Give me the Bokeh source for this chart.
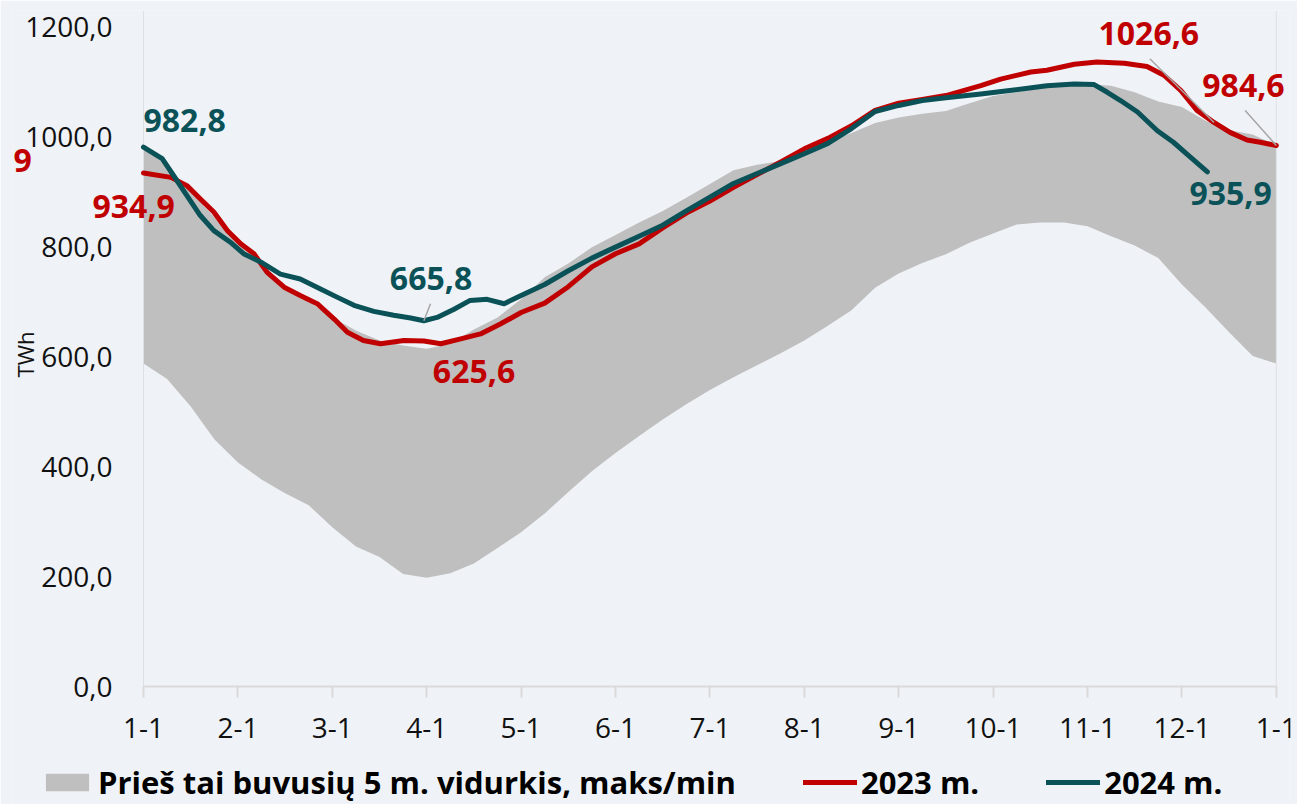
import math
from bokeh.plotting import figure
from bokeh.models import Range1d, FixedTicker, Label, Legend, LegendItem
from bokeh.embed import file_html
from bokeh.resources import INLINE

# ---------------- data ----------------
# x position in months since 1 January (0 = 1-1, 12 = next 1-1)
band_months = [0.0, 0.25, 0.5, 0.75, 1.0, 1.25, 1.5, 1.75, 2.0, 2.25, 2.5,
               2.75, 3.0, 3.25, 3.5, 3.75, 4.0, 4.25, 4.5, 4.75, 5.0, 5.25,
               5.5, 5.75, 6.0, 6.25, 6.5, 6.75, 7.0, 7.25, 7.5, 7.75, 8.0,
               8.25, 8.5, 8.75, 9.0, 9.25, 9.5, 9.75, 10.0, 10.25, 10.5,
               10.75, 11.0, 11.25, 11.5, 11.75, 12.0]

band_max = [982, 948, 901, 855, 810, 767, 730, 701, 672, 648, 630, 621, 615,
            624, 650, 672, 705, 745, 770, 800, 822, 845, 866, 890, 915, 940,
            950, 957, 972, 990, 1008, 1026, 1036, 1043, 1048, 1062, 1075, 1082,
            1090, 1095, 1097, 1094, 1082, 1065, 1055, 1030, 1013, 1005, 985]

band_min = [588, 560, 510, 450, 408, 377, 352, 330, 290, 255, 236, 205, 198,
            206, 224, 252, 281, 315, 354, 392, 425, 456, 486, 514, 540, 563,
            585, 607, 630, 657, 685, 726, 752, 771, 787, 808, 825, 841, 845,
            845, 838, 820, 803, 780, 732, 690, 645, 602, 588]

months2023 = [0.0, 0.29, 0.46, 0.6, 0.745, 0.89, 1.03, 1.17, 1.31, 1.49, 1.66,
              1.84, 2.02, 2.16, 2.33, 2.51, 2.76, 2.97, 3.15, 3.36, 3.57, 3.78,
              4.0, 4.25, 4.5, 4.75, 5.0, 5.25, 5.5, 5.75, 6.0, 6.25, 6.5, 6.75,
              7.0, 7.25, 7.5, 7.75, 8.0, 8.25, 8.5, 8.87, 9.08, 9.4, 9.57,
              9.86, 10.1, 10.39, 10.63, 10.81, 10.99, 11.16, 11.34, 11.51,
              11.69, 11.83, 12.0]
y2023 = [935, 927, 912, 888, 864, 830, 806, 788, 754, 727, 712, 697, 669, 645,
         630, 624, 630, 629, 624, 633, 642, 660, 681, 698, 728, 764, 788, 806,
         835, 862, 884, 909, 932, 955, 979, 998, 1021, 1049, 1062, 1069, 1076,
         1094, 1106, 1119, 1122, 1133, 1137, 1135, 1129, 1113, 1085, 1049,
         1027, 1009, 995, 991, 985]

months2024 = [0.0, 0.198, 0.32, 0.46, 0.6, 0.745, 0.92, 1.06, 1.24, 1.45, 1.66,
              1.875, 2.05, 2.23, 2.44, 2.65, 2.83, 2.97, 3.11, 3.29, 3.46, 3.64,
              3.82, 4.0, 4.25, 4.5, 4.75, 5.0, 5.25, 5.5, 5.75, 6.0, 6.25, 6.5,
              6.75, 7.0, 7.25, 7.5, 7.75, 8.0, 8.25, 8.5, 8.87, 9.22, 9.57,
              9.86, 10.07, 10.21, 10.35, 10.53, 10.74, 10.91, 11.09, 11.27]
y2024 = [982, 961, 930, 894, 858, 830, 809, 788, 773, 751, 742, 724, 709, 694,
         683, 676, 671, 666, 672, 687, 703, 705, 697, 712, 732, 757, 780, 800,
         820, 840, 866, 891, 916, 934, 952, 970, 989, 1016, 1047, 1058, 1067,
         1072, 1079, 1086, 1094, 1097, 1096, 1082, 1067, 1046, 1012, 991, 964,
         937]

x_ticks = [0, 1, 2, 3, 4, 5, 6, 7, 8, 9, 10, 11, 12]
x_tick_labels = ["1-1", "2-1", "3-1", "4-1", "5-1", "6-1", "7-1", "8-1",
                 "9-1", "10-1", "11-1", "12-1", "1-1"]
y_ticks = [0, 200, 400, 600, 800, 1000, 1200]
y_tick_labels = ["0,0", "200,0", "400,0", "600,0", "800,0", "1000,0", "1200,0"]

series_names = ["Prieš tai buvusių 5 m. vidurkis, maks/min", "2023 m.", "2024 m."]
y_title = "TWh"

# data labels: (text, index of the labelled point in its series)
labels_2023 = [("934,9", 0), ("625,6", 17), ("1026,6", 52), ("984,6", 56)]
labels_2024 = [("982,8", 0), ("665,8", 17), ("935,9", 53)]
edge_fragment = "9"   # clipped red label fragment at the left page edge

# ---------------- style / layout ----------------
RED = "#C00000"
TEAL = "#0B5258"
GRAY = "#BFBFBF"
BG = "#EFF3F7"
FONT = "Open Sans"

W, H = 1297, 804
FRAME_L, FRAME_R, FRAME_T = 12, 1290, 10
AXIS_Y = 686              # screen y of the value 0
PX_MONTH = 94.4           # screen px per month (1-1 at x=143)
X0_PX = 143
PX_UNIT = 0.5492          # screen px per TWh unit
x_start = (FRAME_L - X0_PX) / PX_MONTH
x_end = 12 + (FRAME_R - (X0_PX + 12 * PX_MONTH)) / PX_MONTH
y_end = (AXIS_Y - FRAME_T) / PX_UNIT
y_start = -(H - AXIS_Y) / PX_UNIT

p = figure(width=W, height=H, output_backend="svg", toolbar_location=None,
           x_range=Range1d(x_start, x_end), y_range=Range1d(y_start, y_end),
           x_axis_location="above",
           min_border_left=FRAME_L, min_border_right=W - FRAME_R,
           min_border_top=FRAME_T, min_border_bottom=0)
p.background_fill_color = BG
p.border_fill_color = BG
p.outline_line_color = None

band = p.varea(x=band_months, y1=band_min, y2=band_max, fill_color=GRAY)
# faint vertical borders of the plot area at the first and the last 1-1
p.segment(x0=[x_ticks[0], x_ticks[-1]], y0=[0, 0],
          x1=[x_ticks[0], x_ticks[-1]], y1=[y_end, y_end],
          line_color="#DCE1E6", line_width=1)
l23 = p.line(months2023, y2023, line_color=RED, line_width=5,
             line_join="round", line_cap="round")
l24 = p.line(months2024, y2024, line_color=TEAL, line_width=5,
             line_join="round", line_cap="round")

# x axis drawn at value 0, labels below the line
xa = p.xaxis[0]
xa.fixed_location = 0
xa.bounds = (x_ticks[0], x_ticks[-1])
xa.ticker = FixedTicker(ticks=x_ticks)
xa.major_label_overrides = {t: s for t, s in zip(x_ticks, x_tick_labels)}
xa.axis_line_color = "#D9D9D9"
xa.axis_line_width = 2
xa.major_tick_line_color = "#D9D9D9"
xa.major_tick_line_width = 2
xa.major_tick_out = 0
xa.major_tick_in = 11
xa.minor_tick_line_color = None
xa.major_label_standoff = -51

# y axis: labels end at x=112 (31 px left of the 1-1 position)
ya = p.yaxis[0]
ya.ticker = FixedTicker(ticks=y_ticks)
ya.major_label_overrides = {t: s for t, s in zip(y_ticks, y_tick_labels)}
ya.axis_line_color = None
ya.major_tick_line_color = None
ya.minor_tick_line_color = None
ya.major_tick_out = 0
ya.major_tick_in = 0
ya.major_label_standoff = FRAME_L - 112

for ax in (xa, ya):
    ax.major_label_text_font = FONT
    ax.major_label_text_font_size = "28px"
    ax.major_label_text_color = "#111111"

p.xgrid.grid_line_color = None
p.ygrid.grid_line_color = None

# y title, rotated, at the left edge
p.add_layout(Label(x=x_start, y=(AXIS_Y - 354) / PX_UNIT, x_offset=12,
                   text=y_title, angle=math.pi / 2, text_align="center",
                   text_baseline="alphabetic", text_font=FONT,
                   text_font_size="22px", text_color="#111111"))

# red fragment at the left edge
p.add_layout(Label(x=x_start, y=y2023[0], x_offset=1, y_offset=12,
                   text=edge_fragment, text_align="left",
                   text_baseline="alphabetic", text_font=FONT,
                   text_font_size="32px", text_font_style="bold",
                   text_color=RED))

# data labels
offsets_2023 = {0: (-51, -33.5), 17: (9, -30), 52: (-115.5, 89), 56: (-74, 60)}
offsets_2024 = {0: (0, 27), 17: (-34, 42), 53: (-18, -22)}
for txt, i in labels_2023:
    dx, dy = offsets_2023[i]
    p.add_layout(Label(x=months2023[i], y=y2023[i], x_offset=dx, y_offset=dy,
                       text=txt, text_align="left", text_baseline="alphabetic",
                       text_font=FONT, text_font_size="32px",
                       text_font_style="bold", text_color=RED))
for txt, i in labels_2024:
    dx, dy = offsets_2024[i]
    p.add_layout(Label(x=months2024[i], y=y2024[i], x_offset=dx, y_offset=dy,
                       text=txt, text_align="left", text_baseline="alphabetic",
                       text_font=FONT, text_font_size="32px",
                       text_font_style="bold", text_color=TEAL))

# leader lines from data points to labels
lead_x0 = [months2024[17], months2023[52], months2023[56]]
lead_y0 = [y2024[17], y2023[52], y2023[56]]
lead_dx = [0.07, -0.68, -0.33]
lead_dy = [31, 116, 64]
p.segment(x0=lead_x0, y0=lead_y0,
          x1=[a + b for a, b in zip(lead_x0, lead_dx)],
          y1=[a + b for a, b in zip(lead_y0, lead_dy)],
          line_color="#A6A6A6", line_width=1.5)

legend = Legend(items=[LegendItem(label=series_names[0], renderers=[band]),
                       LegendItem(label=series_names[1], renderers=[l23]),
                       LegendItem(label=series_names[2], renderers=[l24])],
                orientation="horizontal", location=(28, 1),
                label_text_font=FONT, label_text_font_size="31px",
                label_text_font_style="bold", label_text_color="#000000",
                glyph_width=54, glyph_height=22, label_standoff=4, spacing=67,
                padding=0, margin=0, border_line_color=None,
                background_fill_alpha=0)
p.add_layout(legend)

open("out.html", "w").write(file_html(p, INLINE))
